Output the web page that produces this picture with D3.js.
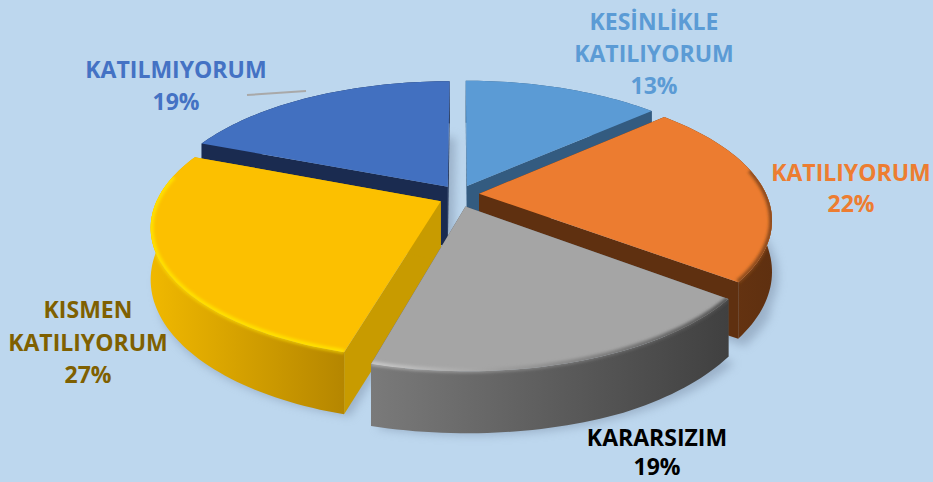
<!DOCTYPE html>
<html><head><meta charset="utf-8">
<style>html,body{margin:0;padding:0;background:#bdd7ee}svg{display:block}</style>
<script src="https://cdn.jsdelivr.net/npm/d3@7/dist/d3.min.js"></script>
</head><body><svg id="c" width="933" height="482"></svg>
<script>
const categories=["KESİNLİKLE KATILIYORUM","KATILIYORUM","KARARSIZIM","KISMEN KATILIYORUM","KATILMIYORUM"];
const values=[13.2,22.3,18.8,26.7,19];
const topColors=["#5b9bd5","#ec7c30","#a5a5a5","#fcc000","#4270c0"];
const sideColors=["#335b80","#5f3010","#555555","#c89b00","#1a2b50"];
const wallFrom=["#335b80","#6e3812","#7a7a7a","#f0b800","#1a2b50"];
const wallTo=["#335b80","#5f3010","#404040","#b58600","#1a2b50"];
const rimFrom=["#5b9bd5","#a85a20","#c8c8c8","#ffe000","#4270c0"];
const rimTo=["#5b9bd5","#8a4a1c","#555555","#ffe000","#4270c0"];
const labelColors=["#5b9bd5","#ed7d31","#000000","#7f6000","#4472c4"];
const labelLines=[["KESİNLİKLE","KATILIYORUM","13%"],["KATILIYORUM","22%"],["KARARSIZIM","19%"],["KISMEN","KATILIYORUM","27%"],["KATILMIYORUM","19%"]];
const labelX=[654,851,657,88,176];
const labelY=[30,181,446,318,78];
const labelPitch=[32,31,29,32.5,32];
const sliceRadius=[1,1,1,0.98,1];
const sliceNudgeV=[0,0,0.03,0.025,0];
const drawOrder=[4,0,1,3,2];

const W=933,H=482,cx=459,cy=194,R=287,A=128,K=0.19,EX=0.07,DEPTH=60,FS=23;
const depth=d3.scaleLinear().domain([110,350]).range([42,62]).clamp(true);
const svg=d3.select("#c");
svg.append("rect").attr("width",W).attr("height",H).attr("fill","#bdd7ee");
const defs=svg.append("defs");
defs.append("filter").attr("id","sh").attr("x","-20%").attr("y","-20%").attr("width","140%").attr("height","140%")
  .append("feGaussianBlur").attr("stdDeviation",5);
defs.append("filter").attr("id","bev").attr("x","-20%").attr("y","-20%").attr("width","140%").attr("height","140%")
  .append("feGaussianBlur").attr("stdDeviation",1.8);

const pie=d3.pie().sort(null).value(d=>d);
const arcs=pie(values);
const project=(u,v)=>{const s=1/(1-K*v);return [cx+R*u*s,cy+A*v*s];};
const line=d3.line();
function slicePts(a,i){
  const mid=(a.startAngle+a.endAngle)/2;
  const ou=EX*Math.sin(mid),ov=-EX*Math.cos(mid)+sliceNudgeV[i];
  const n=Math.max(8,Math.round((a.endAngle-a.startAngle)*40));
  const rr=sliceRadius[i];
  const rim=d3.range(n+1).map(k=>{const t=a.startAngle+(a.endAngle-a.startAngle)*k/n;
    return project(ou+rr*Math.sin(t),ov-rr*Math.cos(t));});
  return {apex:project(ou,ov),rim};
}
const down=p=>[p[0],p[1]+depth(p[1])];
const closed=pts=>line(pts)+"Z";

const gShadow=svg.append("g").attr("filter","url(#sh)").attr("opacity",.55);
const gSlices=svg.append("g");

arcs.forEach((a,i)=>{
  const {apex,rim}=slicePts(a,i);
  gShadow.append("path").attr("d",closed([apex,...rim].map(p=>[p[0]+6,p[1]+DEPTH-4+(p[1]>250?8:0)]))).attr("fill","#7f93ab");
});

drawOrder.forEach(i=>{
  const a=arcs[i];const {apex,rim}=slicePts(a,i);
  const g=gSlices.append("g");
  const first=rim[0],last=rim[rim.length-1];
  const apexLow=[apex[0],apex[1]+DEPTH];
  const xs=d3.extent(rim,p=>p[0]);
  const wg=defs.append("linearGradient").attr("id","w"+i).attr("gradientUnits","userSpaceOnUse")
    .attr("x1",xs[0]).attr("x2",xs[1]).attr("y1",0).attr("y2",0);
  wg.append("stop").attr("offset",0).attr("stop-color",wallFrom[i]);
  wg.append("stop").attr("offset",1).attr("stop-color",wallTo[i]);
  const rg=defs.append("linearGradient").attr("id","r"+i).attr("gradientUnits","userSpaceOnUse")
    .attr("x1",xs[0]).attr("x2",xs[1]).attr("y1",0).attr("y2",0);
  rg.append("stop").attr("offset",0).attr("stop-color",rimFrom[i]);
  rg.append("stop").attr("offset",1).attr("stop-color",rimTo[i]);
  const front=rim.filter(p=>p[1]>apex[1]-26);
  g.append("path").attr("d",closed([apex,first,down(first),apexLow])).attr("fill",sideColors[i]);
  g.append("path").attr("d",closed([apex,last,down(last),apexLow])).attr("fill",sideColors[i]);
  const wallD=closed([...rim,...rim.map(down).reverse()]);
  g.append("path").attr("d",wallD).attr("fill",`url(#w${i})`);
  defs.append("clipPath").attr("id","wc"+i).append("path").attr("d",wallD);
  g.append("g").attr("clip-path",`url(#wc${i})`).append("path").attr("d",line(front)).attr("fill","none")
    .attr("stroke",`url(#r${i})`).attr("stroke-width",3).attr("stroke-opacity",.7).attr("filter","url(#bev)");
  const topD=closed([apex,...rim]);
  g.append("path").attr("d",topD).attr("fill",topColors[i]);
  defs.append("clipPath").attr("id","t"+i).append("path").attr("d",topD);
  g.append("g").attr("clip-path",`url(#t${i})`).append("path").attr("d",line(front)).attr("fill","none")
    .attr("stroke",`url(#r${i})`).attr("stroke-width",6).attr("filter","url(#bev)");
});

svg.append("line").attr("x1",247).attr("y1",95).attr("x2",306).attr("y2",91).attr("stroke","#a9a9a9").attr("stroke-width",2);

categories.forEach((c,i)=>{
  const t=svg.append("text").attr("text-anchor","middle").attr("font-family","'Open Sans'")
    .attr("font-weight",700).attr("font-size",FS).attr("fill",labelColors[i]);
  labelLines[i].forEach((s,j)=>t.append("tspan").attr("x",labelX[i]).attr("y",labelY[i]+j*labelPitch[i]).text(s));
});
</script></body></html>
